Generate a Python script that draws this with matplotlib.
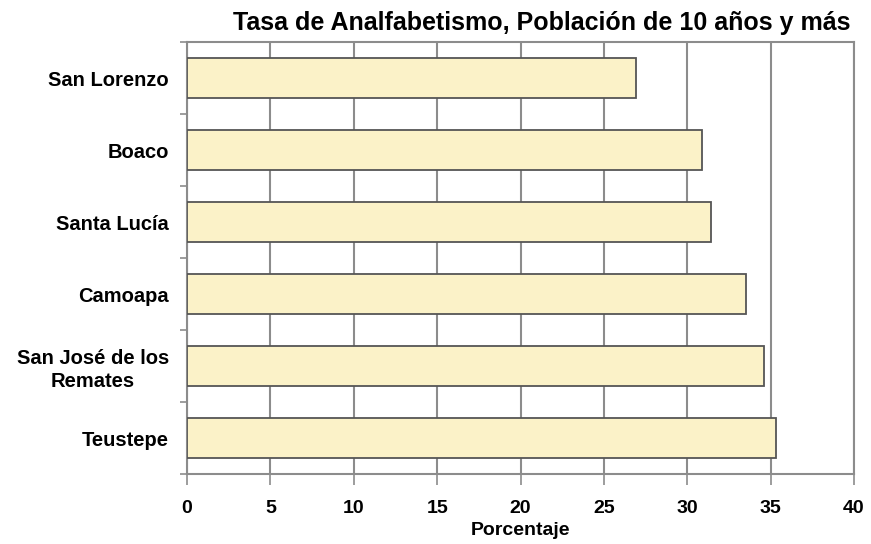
import numpy as np
import matplotlib
matplotlib.use('Agg')
import matplotlib.pyplot as plt

municipios = ['San Lorenzo', 'Boaco', 'Santa Lucía', 'Camoapa',
              'San José de los\nRemates', 'Teustepe']
tasa = [26.9, 30.9, 31.4, 33.5, 34.6, 35.3]
xticks = [0, 5, 10, 15, 20, 25, 30, 35, 40]

plt.rcParams['font.family'] = ['Liberation Sans', 'DejaVu Sans']
plt.rcParams['font.weight'] = 'bold'

grid_color = '#8c8c8c'

fig = plt.figure(figsize=(8.71, 5.44), dpi=100)
ax = fig.add_axes([187 / 871, 1 - 474 / 544, 667 / 871, 432 / 544])

pos = np.arange(len(municipios))
ax.barh(pos, tasa, height=0.55, color='#fbf2c8', edgecolor='#555555',
        linewidth=1.3, zorder=3)

ax.set_xlim(0, 40)
ax.set_ylim(len(municipios) - 0.5, -0.5)
ax.set_xticks(xticks)
ax.set_xticklabels([str(t) for t in xticks], fontsize=14, fontweight='bold')
ax.set_yticks(pos)
ax.set_yticklabels(municipios, fontsize=14.5, fontweight='bold',
                   multialignment='center', linespacing=1.25)
ax.set_yticks(np.arange(-0.5, len(municipios) + 0.5, 1), minor=True)

ax.tick_params(axis='y', which='major', length=0, pad=13)
ax.tick_params(axis='y', which='minor', length=5, color=grid_color, width=1.2)
ax.tick_params(axis='x', which='major', length=8, color=grid_color, width=1.2,
               pad=11)

ax.grid(axis='x', color=grid_color, linewidth=1.5, zorder=0)
for s in ax.spines.values():
    s.set_color(grid_color)
    s.set_linewidth(1.5)

ax.set_xlabel('Porcentaje', fontsize=14, fontweight='bold', labelpad=3)
fig.text(542 / 871, 1 - 23 / 544, 'Tasa de Analfabetismo, Población de 10 años y más',
         ha='center', va='center', fontsize=18, fontweight='bold')

fig.savefig('out.png', dpi=100)
